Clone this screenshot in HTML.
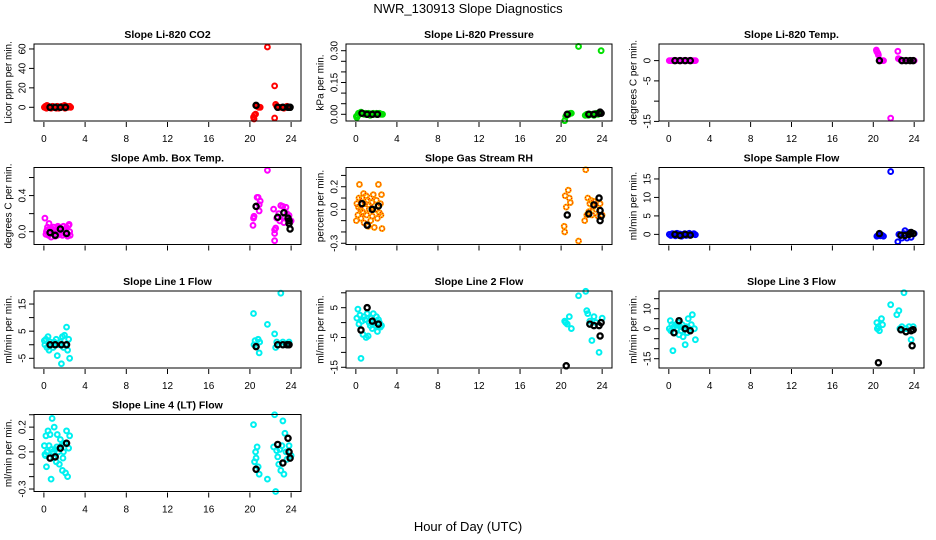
<!DOCTYPE html>
<html><head><meta charset="utf-8"><style>
html,body{margin:0;padding:0;background:#fff}
svg{display:block;font-family:"Liberation Sans",sans-serif}
</style></head><body>
<svg id="chart" width="936" height="540" viewBox="0 0 936 540" xmlns="http://www.w3.org/2000/svg">
<text x="468" y="13" text-anchor="middle" font-size="13">NWR_130913  Slope Diagnostics</text>
<text x="468" y="531" text-anchor="middle" font-size="13">Hour of Day (UTC)</text>
<g id="panels"></g>
</svg>
<script>
// ---- data (hour, value) ----
const xTicks = [0,4,8,12,16,20,24];

const co2Hours = [0.05,0.15,0.25,0.35,0.45,0.55,0.7,0.85,1.0,1.15,1.3,1.45,1.6,1.75,1.9,2.05,2.2,2.35,2.5,2.6,0.3,1.2,2.0,20.35,20.4,20.45,20.55,20.7,20.85,21.0,21.7,22.4,22.4,22.5,22.6,22.8,23.0,23.3,23.6,23.9];
const co2Vals = [0,1,-1,0,1,0,-1,1,0,0,1,-1,0,1,0,-1,1,0,1,0,2,-1,2,-10,-12,-8,-7,1,0,0,62,22,-11,3,1,0,0,-1,1,0];
const co2AvgHours = [0.6,1.1,1.6,2.1,20.6,22.7,23.2,23.7,23.9];
const co2AvgVals = [0,0,0,0,2,0,0,0,0];

const presHours = [0.05,0.15,0.25,0.35,0.5,0.65,0.8,0.95,1.1,1.25,1.4,1.55,1.7,1.85,2.0,2.15,2.3,2.45,2.6,0.1,20.35,20.45,20.6,20.75,20.9,21.0,21.7,22.35,22.5,22.65,22.8,23.0,23.2,23.4,23.6,23.9];
const presVals = [-0.01,-0.005,0.005,0.0,0.01,0.005,0.0,0.005,0.0,0.005,-0.005,0.0,0.005,0.0,0.005,0.0,0.005,0.0,0.0,-0.015,-0.03,-0.01,0.0,0.0,0.005,0.005,0.32,-0.005,0.0,-0.005,0.0,0.0,-0.005,0.005,0.0,0.3];
const presAvgHours = [0.6,1.1,1.6,2.1,20.6,22.7,23.2,23.7,23.8,23.9];
const presAvgVals = [0.005,0,0,0,0,0,0,0.005,0.01,0.005];

const tempHours = [0.05,0.2,0.35,0.5,0.65,0.8,0.95,1.1,1.25,1.4,1.55,1.7,1.85,2.0,2.15,2.3,2.45,2.6,20.3,20.35,20.45,20.5,20.7,20.9,21.0,21.7,22.4,22.45,22.6,22.9,23.2,23.5,23.8,24.0];
const tempVals = [0,0,0,0,0,0,0,0,0,0,0,0,0,0,0,0,0,0,2.6,2.2,1.8,1.4,0,0,0,-14.2,2.3,0.5,0.3,0,0,0,0,0];
const tempAvgHours = [0.6,1.1,1.6,2.1,20.6,22.8,23.2,23.6,23.9];
const tempAvgVals = [0,0,0,0,0,0,0,0,0];

const ambHours = [0.1,0.2,0.3,0.35,0.45,0.5,0.6,0.7,0.8,0.85,0.95,1.0,1.1,1.2,1.3,1.35,1.45,1.55,1.6,1.7,1.8,1.9,2.0,2.1,2.2,2.3,2.4,2.5,2.55,0.25,0.9,1.5,2.45,20.3,20.35,20.4,20.6,20.7,20.8,20.9,20.9,21.0,21.7,22.3,22.4,22.4,22.4,22.5,22.6,22.8,22.9,23.0,23.2,23.3,23.4,23.5,23.6,23.8,24.0];
const ambVals = [0.15,-0.03,0.02,0.05,-0.04,0.09,0.0,-0.06,0.03,-0.02,0.05,0.0,-0.05,0.02,-0.04,0.06,0.0,-0.03,0.04,0.01,-0.04,0.06,0.02,-0.03,0.05,-0.05,0.07,0.0,-0.04,0.0,0.01,0.05,0.08,0.07,0.15,0.17,0.28,0.38,0.38,0.3,0.23,0.34,0.68,0.25,0.02,-0.02,-0.1,0.04,0.15,0.2,0.12,0.29,0.28,0.1,0.16,0.27,0.2,0.18,0.12];
const ambAvgHours = [0.6,1.1,1.6,2.2,20.6,22.7,23.3,23.7,23.8,23.8,23.9];
const ambAvgVals = [-0.01,-0.04,0.03,-0.02,0.28,0.16,0.21,0.15,0.12,0.09,0.03];

const rhHours = [0.05,0.1,0.2,0.3,0.35,0.45,0.5,0.6,0.65,0.75,0.8,0.9,1.0,1.05,1.15,1.2,1.3,1.4,1.45,1.55,1.6,1.7,1.8,1.9,2.0,2.1,2.2,2.3,2.4,2.5,2.55,0.25,0.7,1.25,1.95,2.45,20.3,20.35,20.4,20.5,20.7,20.8,20.9,21.7,22.3,22.4,22.5,22.6,22.7,22.8,22.9,23.0,23.1,23.2,23.4,23.6,23.8,24.0];
const rhVals = [-0.1,0.05,-0.05,0.1,0.22,0.0,-0.08,0.1,-0.02,0.14,-0.12,0.05,0.12,-0.05,0.08,-0.15,0.0,0.1,-0.1,0.06,-0.06,0.13,-0.16,0.0,0.08,-0.08,0.22,-0.03,0.05,0.13,-0.17,0.02,-0.03,0.04,0.0,-0.05,-0.15,-0.2,0.12,0.02,0.17,0.1,0.06,-0.28,-0.1,0.35,-0.05,0.1,-0.02,0.05,0.08,-0.05,0.02,0.07,0.0,-0.06,0.05,-0.05];
const rhAvgHours = [0.6,1.1,1.6,2.2,20.6,22.7,23.2,23.7,23.8,23.9,23.8];
const rhAvgVals = [0.05,-0.14,0.0,0.03,-0.05,-0.04,0.04,0.1,-0.01,-0.06,-0.1];

const flowHours = [0.05,0.2,0.35,0.5,0.65,0.8,0.95,1.1,1.25,1.4,1.55,1.7,1.85,2.0,2.15,2.3,2.45,2.6,20.35,20.45,20.55,20.7,20.85,21.0,21.7,22.4,22.5,22.7,22.8,23.0,23.1,23.3,23.5,23.7,24.0];
const flowVals = [0,-0.3,0.2,0,-0.4,0.3,-0.2,0.1,-0.5,0,0.2,-0.3,0,0.3,-0.2,0,0.2,-0.1,-0.5,-0.3,0,-0.4,-0.2,-0.5,17,-2,0,-0.3,-1,0.2,1,-1,0.5,-0.8,0.2];
const flowAvgHours = [0.6,1.1,1.6,2.1,20.6,22.7,23.1,23.5,23.7,23.9];
const flowAvgVals = [0,-0.3,0,-0.2,0.2,-0.2,-0.3,0,0.5,0.2];

const l1Hours = [0.05,0.1,0.2,0.3,0.4,0.5,0.6,0.75,0.9,1.0,1.1,1.2,1.3,1.45,1.6,1.7,1.8,1.9,2.0,2.1,2.2,2.3,2.4,2.5,20.35,20.4,20.5,20.6,20.8,20.9,20.95,21.7,22.4,22.5,22.6,22.8,23.0,23.2,23.5,23.8];
const l1Vals = [1.5,0,2,-1,3,-2,1,0,-1,1,0,2,-4,0,1,-7,3,-1,3.5,0,6.5,-2,2,-5,11.5,0,1.5,-0.5,2,-3,1,7.5,4,-1,1,0,19,1,0,1];
const l1AvgHours = [0.6,1.1,1.7,2.2,20.6,22.7,23.2,23.6,23.8];
const l1AvgVals = [0,0,0,0,-0.7,0,0,0,0];

const l2Hours = [0.1,0.2,0.3,0.4,0.5,0.6,0.7,0.8,0.9,1.0,1.1,1.2,1.3,1.4,1.5,1.6,1.7,1.8,1.9,2.0,2.1,2.2,2.3,2.4,2.5,20.35,20.45,20.6,20.8,21.0,21.7,22.4,22.5,22.6,22.8,23.0,23.2,23.4,23.7,24.0];
const l2Vals = [1.5,4.5,-0.5,2.5,-12,0.5,-4,2,1,-5,3,-4.5,0,-1,1.5,-2,3,0,-1,2,-3,1,0,-1.5,-1,0.5,0,-0.5,2,-2,9,10.5,4,3,0.5,-6,2,0,-10,1.5];
const l2AvgHours = [0.5,1.1,1.6,2.2,20.5,22.8,23.2,23.7,23.8,23.9];
const l2AvgVals = [-2.5,5,0.5,-0.5,-14.5,-0.5,-1,-1,-4.5,0];

const l3Hours = [0.05,0.15,0.2,0.3,0.4,0.5,0.6,0.7,0.8,0.9,1.0,1.1,1.2,1.3,1.4,1.5,1.6,1.7,1.8,1.9,2.0,2.1,2.2,2.3,2.5,2.6,20.35,20.4,20.5,20.6,20.8,20.9,21.7,22.3,22.5,22.6,22.8,23.0,23.2,23.5,23.7,23.9];
const l3Vals = [0,4,-1,2,-11,1,-2,2,0,3,-3,1,-1,2,-4,0,-8,1,-2,5,0,-1,2,7,0,-5.5,3,0,1,-1,5,2,12,7,9,0,1,18,0,1,-5.5,1];
const l3AvgHours = [0.5,1.0,1.6,2.1,20.5,22.7,23.2,23.7,23.8,23.9];
const l3AvgVals = [-2,4,0,-1,-17,-0.5,-1.5,-1,-8.5,-0.5];

const l4Hours = [0.05,0.1,0.2,0.25,0.3,0.4,0.5,0.6,0.7,0.8,0.85,0.95,1.0,1.1,1.2,1.3,1.4,1.5,1.6,1.7,1.8,1.9,2.0,2.1,2.2,2.3,2.4,2.5,0.15,0.75,1.25,1.85,20.35,20.45,20.55,20.6,20.7,20.8,20.9,21.7,22.3,22.4,22.5,22.6,22.7,22.8,22.9,23.0,23.1,23.2,23.3,23.4,23.5,23.6,23.8,24.0];
const l4Vals = [0.05,-0.02,0.13,-0.12,0.0,0.17,0.05,0.14,-0.22,0.27,0.0,-0.05,0.2,0.02,-0.08,0.14,0.0,-0.1,0.1,0.05,-0.15,0.0,0.07,-0.17,0.17,-0.2,0.03,0.13,-0.03,0.02,0.04,-0.05,0.22,-0.08,0.0,-0.05,0.04,-0.12,-0.18,-0.22,0.04,0.3,-0.32,0.01,-0.04,-0.1,0.02,-0.15,0.05,0.25,-0.18,0.15,0.0,-0.06,0.05,-0.03];
const l4AvgHours = [0.6,1.1,1.6,2.2,20.6,22.7,23.2,23.7,23.8,23.9];
const l4AvgVals = [-0.05,-0.04,0.03,0.07,-0.14,0.06,-0.09,0.11,0.0,-0.05];

// ---- layout ----
const COLS = [{l:34,r:301,yl:9},{l:346,r:612,yl:321},{l:659,r:924,yl:634}];
const ROWS = [44,167.5,291,414.5];
const H = 77;
const NS = 'http://www.w3.org/2000/svg';
const root = document.getElementById('panels');

function mk(tag, attrs, parent){
  const e = document.createElementNS(NS, tag);
  for (const k in attrs) e.setAttribute(k, attrs[k]);
  (parent||root).appendChild(e);
  return e;
}

const panels = [
 {title:'Slope Li-820 CO2', ylab:'Licor ppm per min.', col:0,row:0, ylim:[-14.1,65.1], ticks:[0,20,40,60], labels:['0','20','40','60'], color:'#ff0000', h:co2Hours, v:co2Vals, ah:co2AvgHours, av:co2AvgVals, xl:true},
 {title:'Slope Li-820 Pressure', ylab:'kPa per min.', col:1,row:0, ylim:[-0.0316,0.3316], ticks:[0,0.05,0.1,0.15,0.2,0.25,0.3], labels:['0.00','','','0.15','','','0.30'], color:'#00e000', h:presHours, v:presVals, ah:presAvgHours, av:presAvgVals, xl:true},
 {title:'Slope Li-820 Temp.', ylab:'degrees C per min.', col:2,row:0, ylim:[-14.9,4.1], ticks:[0,-5,-10,-15], labels:['0','-5','','-15'], color:'#ff00ff', h:tempHours, v:tempVals, ah:tempAvgHours, av:tempAvgVals, xl:true},
 {title:'Slope Amb. Box Temp.', ylab:'degrees C per min.', col:0,row:1, ylim:[-0.142,0.711], ticks:[0,0.2,0.4,0.6], labels:['0.0','','0.4',''], color:'#ff00ff', h:ambHours, v:ambVals, ah:ambAvgHours, av:ambAvgVals, xl:false},
 {title:'Slope Gas Stream RH', ylab:'percent per min.', col:1,row:1, ylim:[-0.311,0.37], ticks:[-0.3,-0.2,-0.1,0,0.1,0.2,0.3], labels:['-0.3','','','0.0','','0.2',''], color:'#ffb000', h:rhHours, v:rhVals, ah:rhAvgHours, av:rhAvgVals, xl:false},
 {title:'Slope Sample Flow', ylab:'ml/min per min.', col:2,row:1, ylim:[-2.74,18.1], ticks:[0,5,10,15], labels:['0','5','10','15'], color:'#0000ff', h:flowHours, v:flowVals, ah:flowAvgHours, av:flowAvgVals, xl:false},
 {title:'Slope Line 1 Flow', ylab:'ml/min per min.', col:0,row:2, ylim:[-8.57,19.8], ticks:[-5,0,5,10,15], labels:['-5','','5','','15'], color:'#00f0f0', h:l1Hours, v:l1Vals, ah:l1AvgHours, av:l1AvgVals, xl:true},
 {title:'Slope Line 2 Flow', ylab:'ml/min per min.', col:1,row:2, ylim:[-15.24,10.6], ticks:[-15,-10,-5,0,5,10], labels:['-15','','-5','','5',''], color:'#00f0f0', h:l2Hours, v:l2Vals, ah:l2AvgHours, av:l2AvgVals, xl:true},
 {title:'Slope Line 3 Flow', ylab:'ml/min per min.', col:2,row:2, ylim:[-19.65,18.85], ticks:[-15,-10,-5,0,5,10,15], labels:['-15','','','0','','10',''], color:'#00f0f0', h:l3Hours, v:l3Vals, ah:l3AvgHours, av:l3AvgVals, xl:true},
 {title:'Slope Line 4 (LT) Flow', ylab:'ml/min per min.', col:0,row:3, ylim:[-0.32,0.302], ticks:[-0.3,-0.2,-0.1,0,0.1,0.2,0.3], labels:['-0.3','','','0.0','','0.2',''], color:'#00f0f0', h:l4Hours, v:l4Vals, ah:l4AvgHours, av:l4AvgVals, xl:true}
];

panels.forEach(function(p, i){
  const c = COLS[p.col], top = ROWS[p.row], bot = top + H;
  const xs = function(h){ return c.l + (h + 0.96) / 25.92 * (c.r - c.l); };
  const ys = function(v){ return bot - (v - p.ylim[0]) / (p.ylim[1] - p.ylim[0]) * H; };
  const slug = p.title.toLowerCase().replace(/[^a-z0-9]+/g,'-').replace(/^-|-$/g,'');
  const g = mk('g', {});
  
  
  const t = mk('text', {x:(c.l+c.r)/2, y:top-6, 'text-anchor':'middle', 'font-size':'10.5', 'font-weight':'bold'}, g);
  t.textContent = p.title;
  
  
  const yl = mk('text', {x:c.yl, y:(top+bot)/2, 'text-anchor':'middle', 'font-size':'10', transform:'rotate(-90 '+c.yl+' '+((top+bot)/2)+')', 'dominant-baseline':'middle'}, g);
  yl.textContent = p.ylab;
  
  
  p.ticks.forEach(function(tv, k){
    const y = ys(tv);
    const tk = mk('line', {x1:c.l-5, x2:c.l, y1:y, y2:y, stroke:'#000', 'stroke-width':1}, g);
    
    
    if (p.labels[k]) {
      const lx = c.l - 11;
      const tl = mk('text', {x:lx, y:y, 'text-anchor':'middle', 'font-size':'10', 'dominant-baseline':'middle', transform:'rotate(-90 '+lx+' '+y+')'}, g);
      tl.textContent = p.labels[k];
      
      
    }
  });
  xTicks.forEach(function(h){
    const x = xs(h);
    const tk = mk('line', {x1:x, x2:x, y1:bot+1, y2:bot+6, stroke:'#000', 'stroke-width':1}, g);
    
    
    if (p.xl) {
      const tl = mk('text', {x:x, y:bot+21, 'text-anchor':'middle', 'font-size':'10'}, g);
      tl.textContent = String(h);
      
      
    }
  });
  p.h.forEach(function(h, k){
    const ci = mk('circle', {cx:xs(h), cy:ys(p.v[k]), r:2.4, fill:'none', stroke:p.color, 'stroke-width':2}, g);
    
    
    if (p.color === '#ffb000') {
      const d = mk('circle', {cx:xs(h), cy:ys(p.v[k]), r:2.4, fill:'none', stroke:'#ff0000', 'stroke-width':1, 'stroke-dasharray':'1 1.5'}, g);
      
      
    }
  });
  p.ah.forEach(function(h, k){
    const ci = mk('circle', {cx:xs(h), cy:ys(p.av[k]), r:2.6, fill:'none', stroke:'#000', 'stroke-width':2.3}, g);
    
    
  });
  const box = mk('rect', {x:c.l, y:top, width:c.r-c.l, height:H, fill:'none', stroke:'#000', 'stroke-width':1}, g);
  
  
});
</script>
</body></html>
